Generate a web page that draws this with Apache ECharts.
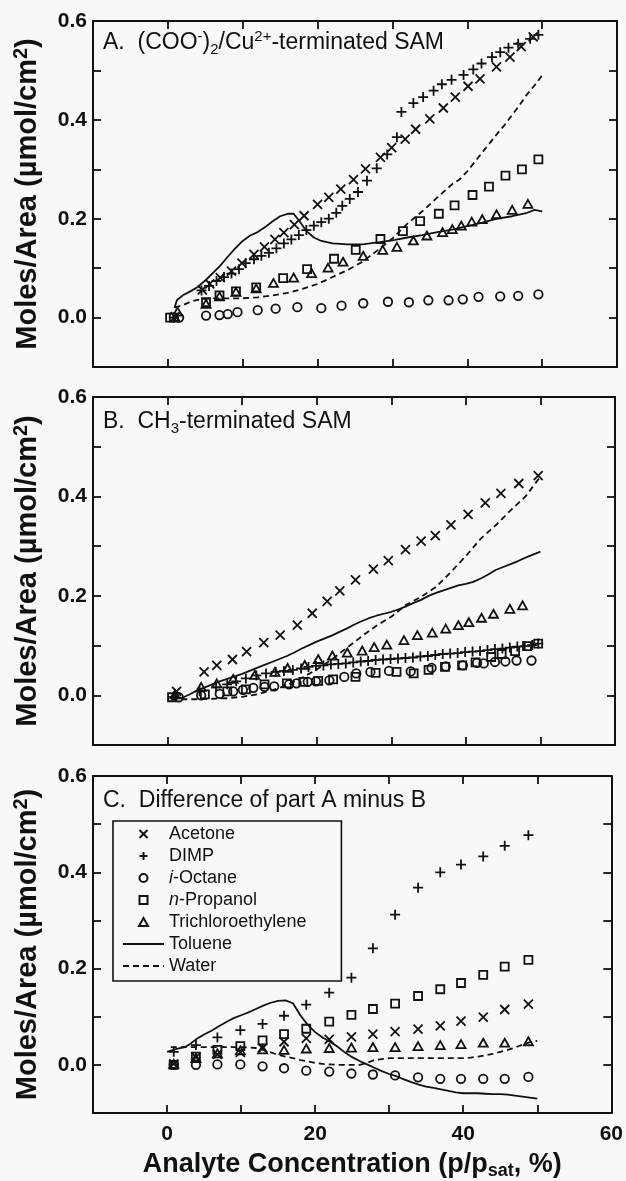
<!DOCTYPE html>
<html><head><meta charset="utf-8">
<script src="https://cdn.jsdelivr.net/npm/echarts@6/dist/echarts.min.js"></script>
<style>html,body{margin:0;padding:0;background:#f8f8f8}#c{width:626px;height:1181px}</style>
</head><body><div id="c"></div>
<script>
// ---------- DATA (x = p/psat %, y = µmol/cm2) ----------
const seriesNames = ['Acetone','DIMP','i-Octane','n-Propanol','Trichloroethylene','Toluene','Water'];
const xTicks = [0,20,40,60];
const yTicks = [0.0,0.2,0.4,0.6];

// Panel A: (COO-)2/Cu2+-terminated SAM
const acetoneA = [[1.0,0.002],[4.6,0.056],[5.6,0.068],[7.0,0.081],[8.5,0.094],[9.9,0.110],[11.5,0.128],[12.9,0.143],[14.3,0.158],[15.5,0.172],[16.9,0.188],[18.2,0.206],[20.0,0.229],[21.5,0.243],[23.1,0.260],[24.8,0.279],[26.4,0.301],[28.4,0.324],[29.9,0.344],[31.7,0.361],[33.1,0.381],[35.0,0.402],[36.8,0.424],[38.4,0.446],[40.1,0.468],[41.7,0.483],[43.9,0.507],[45.7,0.527],[47.2,0.548],[48.8,0.568]];
const dimpA = [[0.8,0.0],[4.5,0.055],[5.5,0.064],[6.5,0.074],[7.5,0.082],[8.5,0.089],[9.5,0.098],[10.4,0.110],[11.5,0.118],[12.5,0.125],[13.5,0.131],[14.5,0.140],[15.5,0.150],[16.5,0.158],[17.5,0.167],[18.5,0.177],[19.5,0.186],[20.5,0.193],[21.5,0.200],[22.5,0.212],[23.3,0.226],[24.3,0.240],[25.4,0.254],[26.6,0.277],[27.9,0.302],[29.3,0.330],[30.6,0.365],[31.2,0.416],[32.8,0.434],[34.1,0.446],[35.5,0.459],[36.6,0.472],[37.9,0.481],[39.5,0.491],[40.8,0.502],[41.9,0.514],[43.3,0.527],[44.4,0.537],[45.5,0.546],[46.8,0.554],[48.4,0.564],[49.5,0.572]];
const octaneA = [[1.5,0.0],[5.1,0.004],[6.9,0.005],[8.0,0.007],[9.3,0.011],[12.0,0.015],[14.4,0.018],[17.3,0.021],[20.5,0.019],[23.2,0.024],[26.1,0.029],[29.4,0.032],[32.2,0.031],[34.8,0.035],[37.5,0.035],[39.4,0.037],[41.5,0.042],[44.4,0.043],[46.8,0.044],[49.5,0.047]];
const propanolA = [[0.3,0.0],[0.8,0.0],[5.1,0.031],[6.9,0.045],[9.1,0.053],[11.8,0.061],[15.4,0.080],[18.6,0.098],[22.2,0.119],[25.1,0.137],[28.4,0.159],[31.4,0.175],[33.7,0.195],[36.2,0.210],[38.3,0.227],[40.7,0.248],[42.9,0.265],[45.1,0.287],[47.3,0.300],[49.5,0.320]];
const tceA = [[1.3,0.012],[5.1,0.028],[6.9,0.043],[9.1,0.052],[11.8,0.059],[14.1,0.070],[16.8,0.081],[19.2,0.090],[21.4,0.101],[23.4,0.113],[26.1,0.125],[28.7,0.137],[30.6,0.143],[32.8,0.156],[34.6,0.166],[36.7,0.173],[38.0,0.179],[39.2,0.186],[40.6,0.194],[42.0,0.199],[43.9,0.209],[46.0,0.218],[48.1,0.230]];
const tolueneA = [[0.9,0.02],[1.2,0.035],[2,0.045],[3,0.053],[4,0.062],[5,0.075],[6,0.09],[7,0.105],[8,0.123],[9,0.14],[10,0.155],[11,0.166],[12,0.173],[13,0.183],[14,0.195],[15,0.205],[16,0.21],[16.8,0.21],[17.5,0.197],[18.5,0.175],[19.5,0.162],[20.5,0.155],[22,0.15],[24,0.148],[26,0.148],[28,0.152],[30,0.156],[32,0.162],[34,0.167],[36,0.173],[38,0.178],[40,0.185],[42,0.192],[44,0.2],[46,0.205],[48,0.212],[49,0.218],[50,0.215]];
const waterA = [[0.9,0.02],[2,0.025],[3,0.032],[4,0.036],[5,0.038],[6,0.039],[8,0.039],[10,0.039],[12,0.041],[14,0.045],[16,0.05],[18,0.058],[20,0.068],[22,0.082],[24,0.096],[26,0.113],[28,0.136],[30,0.16],[32,0.19],[34,0.215],[36,0.243],[38,0.27],[39,0.28],[40,0.296],[42,0.334],[44,0.372],[45,0.39],[46,0.41],[47,0.43],[48,0.452],[49,0.47],[50,0.49]];

// Panel B: CH3-terminated SAM
const acetoneB = [[1.2,0.008],[4.9,0.047],[6.6,0.060],[8.7,0.072],[10.6,0.088],[12.9,0.106],[15.1,0.121],[17.4,0.141],[19.4,0.165],[21.4,0.189],[23.1,0.210],[25.2,0.232],[27.6,0.254],[29.6,0.271],[31.9,0.293],[34.0,0.310],[35.9,0.321],[38.0,0.343],[40.3,0.364],[42.6,0.387],[44.7,0.406],[47.1,0.426],[49.7,0.442]];
const dimpB = [[0.8,-0.003],[4.3,0.008],[6.5,0.016],[8.0,0.022],[9.2,0.028],[10.5,0.034],[11.9,0.040],[13.2,0.044],[14.5,0.047],[15.6,0.049],[16.8,0.051],[17.9,0.054],[18.9,0.057],[19.9,0.059],[20.9,0.060],[21.9,0.062],[22.9,0.063],[23.9,0.064],[24.9,0.066],[25.9,0.068],[26.9,0.069],[27.9,0.071],[28.9,0.072],[29.9,0.073],[30.9,0.074],[31.9,0.075],[32.9,0.076],[33.9,0.078],[34.9,0.079],[35.9,0.081],[36.9,0.083],[37.9,0.084],[38.9,0.085],[39.9,0.087],[40.9,0.088],[41.9,0.089],[42.9,0.091],[43.9,0.093],[44.9,0.094],[45.9,0.096],[46.9,0.098],[47.9,0.099],[48.9,0.101],[49.7,0.104]];
const octaneB = [[1.5,-0.004],[4.5,0.0],[7.0,0.003],[8.8,0.008],[10.1,0.011],[11.5,0.015],[13.0,0.017],[14.3,0.018],[16.3,0.022],[17.3,0.024],[18.8,0.027],[19.9,0.028],[21.7,0.030],[23.7,0.037],[25.3,0.044],[27.2,0.047],[29.7,0.049],[32.6,0.048],[35.4,0.055],[37.3,0.058],[39.6,0.060],[41.5,0.065],[42.4,0.064],[43.9,0.067],[45.3,0.068],[46.8,0.070],[48.8,0.070]];
const propanolB = [[0.6,-0.004],[5.0,0.002],[8.0,0.008],[10.5,0.012],[13.0,0.022],[16.0,0.024],[18.2,0.027],[20.2,0.029],[22.2,0.032],[25.2,0.037],[27.9,0.045],[30.7,0.047],[33.0,0.044],[35.0,0.051],[37.2,0.057],[39.5,0.060],[41.3,0.066],[43.4,0.077],[44.8,0.083],[46.6,0.089],[48.2,0.099],[49.7,0.104]];
const tceB = [[1.0,0.002],[4.5,0.017],[6.6,0.024],[8.8,0.033],[11.7,0.041],[14.4,0.047],[16.1,0.055],[18.4,0.061],[20.2,0.073],[22.1,0.080],[24.1,0.086],[26.1,0.090],[27.7,0.097],[29.4,0.102],[31.7,0.111],[33.5,0.121],[35.5,0.126],[37.3,0.134],[39.0,0.141],[40.4,0.147],[42.1,0.156],[43.7,0.164],[45.9,0.174],[47.6,0.181]];
const tolueneB = [[0.5,-0.007],[2,-0.005],[3,0.002],[4,0.01],[5,0.016],[6,0.022],[7,0.028],[8,0.033],[9,0.038],[10,0.043],[11,0.049],[12,0.055],[13,0.061],[14,0.067],[15,0.073],[16,0.079],[17,0.086],[18,0.094],[19,0.101],[20,0.108],[21,0.114],[22,0.12],[23,0.127],[24,0.134],[25,0.142],[26,0.149],[27,0.155],[28,0.16],[29,0.164],[30,0.168],[31,0.173],[32,0.179],[33,0.186],[34,0.192],[35,0.2],[36,0.206],[37,0.211],[38,0.216],[39,0.221],[40,0.224],[41,0.228],[42,0.235],[43,0.243],[44,0.252],[45,0.258],[46,0.264],[47,0.27],[48,0.277],[49,0.283],[50,0.289]];
const waterB = [[0.5,-0.008],[2,-0.008],[4,-0.008],[6,-0.007],[8,-0.006],[10,-0.003],[12,0.002],[14,0.01],[16,0.02],[18,0.035],[20,0.052],[22,0.072],[24,0.095],[26,0.118],[28,0.14],[30,0.158],[31,0.17],[32,0.182],[34,0.198],[36,0.218],[38,0.248],[40,0.28],[42,0.315],[44,0.342],[46,0.372],[48,0.4],[49,0.42],[50,0.44]];

// Panel C: difference A minus B
const acetoneC = [[0.9,0.002],[3.9,0.016],[6.8,0.022],[9.9,0.026],[12.9,0.035],[15.8,0.048],[18.8,0.055],[21.9,0.053],[24.9,0.058],[27.8,0.064],[30.8,0.069],[33.9,0.074],[36.9,0.081],[39.7,0.091],[42.7,0.099],[45.6,0.115],[48.8,0.126]];
const dimpC = [[0.9,0.027],[3.9,0.041],[6.8,0.057],[9.9,0.072],[12.9,0.085],[15.8,0.102],[18.8,0.125],[21.9,0.150],[24.9,0.181],[27.8,0.242],[30.8,0.312],[33.9,0.368],[36.9,0.400],[39.7,0.416],[42.7,0.433],[45.6,0.455],[48.8,0.477]];
const octaneC = [[0.9,0.0],[3.9,0.0],[6.8,0.001],[9.9,0.001],[12.9,-0.003],[15.8,-0.007],[18.8,-0.012],[21.9,-0.014],[24.9,-0.018],[27.8,-0.020],[30.8,-0.022],[33.9,-0.026],[36.9,-0.029],[39.7,-0.029],[42.7,-0.029],[45.6,-0.029],[48.8,-0.025]];
const propanolC = [[0.9,0.0],[3.9,0.017],[6.8,0.031],[9.9,0.039],[12.9,0.051],[15.8,0.064],[18.8,0.075],[21.9,0.090],[24.9,0.104],[27.8,0.116],[30.8,0.127],[33.9,0.143],[36.9,0.157],[39.7,0.170],[42.7,0.187],[45.6,0.204],[48.8,0.218]];
const tceC = [[0.9,0.002],[3.9,0.014],[6.8,0.024],[9.9,0.030],[12.9,0.032],[15.8,0.031],[18.8,0.034],[21.9,0.035],[24.9,0.036],[27.8,0.037],[30.8,0.037],[33.9,0.039],[36.9,0.041],[39.7,0.043],[42.7,0.046],[45.6,0.046],[48.8,0.049]];
const tolueneC = [[0,0.027],[1.3,0.033],[2.4,0.037],[3,0.042],[4,0.054],[5,0.063],[6,0.071],[7,0.08],[8,0.089],[9,0.097],[10,0.103],[11,0.109],[12,0.116],[13,0.123],[14,0.129],[15,0.133],[16,0.134],[17,0.128],[18,0.103],[19,0.083],[20,0.068],[21,0.057],[22,0.048],[23,0.038],[24,0.026],[25,0.016],[26,0.008],[27,0.001],[28,-0.006],[29,-0.013],[30,-0.019],[31,-0.024],[32,-0.03],[33,-0.036],[34,-0.041],[35,-0.045],[36,-0.048],[37,-0.051],[38,-0.054],[39,-0.057],[40,-0.059],[41,-0.059],[42,-0.059],[43,-0.06],[44,-0.061],[45,-0.061],[46,-0.062],[47,-0.064],[48,-0.066],[49,-0.068],[50,-0.07]];
const waterC = [[0.5,0.037],[2,0.037],[4,0.037],[6,0.037],[8,0.037],[10,0.037],[12,0.035],[13,0.031],[14,0.026],[15,0.021],[16,0.017],[17,0.014],[18,0.01],[19,0.007],[20,0.004],[21,0.002],[22,0.001],[23,0.0],[24,0.0],[25,0.0],[26,0.0],[27,0.004],[28,0.01],[29,0.012],[30,0.014],[32,0.014],[34,0.014],[36,0.014],[38,0.014],[40,0.014],[41,0.015],[42,0.017],[43,0.02],[44,0.023],[45,0.027],[46,0.031],[47,0.036],[48,0.042],[49,0.047],[50,0.05]];

const panelData = [
  [acetoneA, dimpA, octaneA, propanolA, tceA, tolueneA, waterA],
  [acetoneB, dimpB, octaneB, propanolB, tceB, tolueneB, waterB],
  [acetoneC, dimpC, octaneC, propanolC, tceC, tolueneC, waterC]
];
const panelTitles = [
  'A.  (COO{sup|-}){sub|2}/Cu{sup|2+}-terminated SAM',
  'B.  CH{sub|3}-terminated SAM',
  'C.  Difference of part A minus B'
];

// ---------- STYLE / LAYOUT ----------
const FONT = "'Liberation Sans', Arial, Helvetica, sans-serif";
const INK = '#111';
const grids = [
  {left: 93, top: 21, width: 524, height: 346},
  {left: 93, top: 397, width: 522, height: 348},
  {left: 93, top: 776, width: 521, height: 345}
];
const titleTops = [29, 408, 787];
const CROSS = 'path://M0,0L9,9M0,9L9,0';
const PLUS = 'path://M4.5,0L4.5,9M0,4.5L9,4.5';
const SQUARE = 'path://M0,0L8,0L8,8L0,8Z';
const TRIANGLE = 'path://M4.5,0L9,8L0,8Z';
const symbols = [CROSS, PLUS, 'circle', SQUARE, TRIANGLE];
const symSizes = [9, 10, 8.5, 8, 9];

const xAxes = [], yAxes = [], series = [], titles = [];
grids.forEach((g, i) => {
  const common = {
    gridIndex: i, type: 'value', min: -10, max: 60, interval: 10,
    axisLine: {show: true, onZero: false, lineStyle: {color: INK, width: 2}},
    axisTick: {show: true, inside: true, length: 8, lineStyle: {color: INK, width: 1.8}},
    splitLine: {show: false}
  };
  xAxes.push(Object.assign({}, common, {
    position: 'bottom',
    axisLabel: {show: i === 2, margin: 11, fontFamily: FONT, fontWeight: 'bold', fontSize: 21, color: INK,
      formatter: v => xTicks.indexOf(v) >= 0 ? String(v) : ''},
    name: i === 2 ? 'Analyte Concentration (p/p{sub|sat}, %)' : '',
    nameLocation: 'middle', nameGap: 37,
    nameTextStyle: {fontFamily: FONT, fontWeight: 'bold', fontSize: 27, color: INK, lineHeight: 30,
      rich: {sub: {fontFamily: FONT, fontWeight: 'bold', fontSize: 18, color: INK, verticalAlign: 'bottom', lineHeight: 22}}}
  }));
  xAxes.push(Object.assign({}, common, {position: 'top', axisLabel: {show: false}}));
  const ycommon = {
    gridIndex: i, type: 'value', min: -0.1, max: 0.6, interval: 0.1,
    axisLine: {show: true, onZero: false, lineStyle: {color: INK, width: 2}},
    axisTick: {show: true, inside: true, length: 8, lineStyle: {color: INK, width: 1.8}},
    splitLine: {show: false}
  };
  yAxes.push(Object.assign({}, ycommon, {
    position: 'left',
    axisLabel: {show: true, margin: 6, fontFamily: FONT, fontWeight: 'bold', fontSize: 21, color: INK,
      formatter: v => { const r = Math.round(v * 10) / 10; return yTicks.some(t => Math.abs(t - r) < 1e-9) ? r.toFixed(1) : ''; }},
    name: 'Moles/Area (\u00b5mol/cm{sup|2})',
    nameLocation: 'middle', nameGap: 48, nameRotate: 90,
    nameTextStyle: {fontFamily: FONT, fontWeight: 'bold', fontSize: 29, color: INK, lineHeight: 34,
      rich: {sup: {fontFamily: FONT, fontWeight: 'bold', fontSize: 20, color: INK, verticalAlign: 'top', lineHeight: 24}}}
  }));
  yAxes.push(Object.assign({}, ycommon, {position: 'right', axisLabel: {show: false}}));

  titles.push({
    left: g.left + 10, top: titleTops[i], padding: 0, text: panelTitles[i],
    textStyle: {fontFamily: FONT, fontWeight: 'normal', fontSize: 23, color: INK, lineHeight: 28,
      rich: {
        sup: {fontFamily: FONT, fontSize: 15, color: INK, verticalAlign: 'top', lineHeight: 18},
        sub: {fontFamily: FONT, fontSize: 15, color: INK, verticalAlign: 'bottom', lineHeight: 20}
      }}
  });

  panelData[i].forEach((data, k) => {
    const base = {name: seriesNames[k], xAxisIndex: 2 * i, yAxisIndex: 2 * i, data: data, silent: true, animation: false};
    if (k < 5) {
      series.push(Object.assign(base, {
        type: 'scatter', symbol: symbols[k], symbolSize: symSizes[k], symbolKeepAspect: true,
        itemStyle: {color: 'rgba(0,0,0,0)', borderColor: INK, borderWidth: 1.8, opacity: 1}
      }));
    } else {
      series.push(Object.assign(base, {
        type: 'line', symbol: 'none', showSymbol: false, smooth: false,
        lineStyle: {color: INK, width: 1.8, type: k === 6 ? [6, 4] : 'solid'},
        itemStyle: {color: 'rgba(0,0,0,0)', borderColor: 'rgba(0,0,0,0)', borderWidth: 0}
      }));
    }
  });
});

const chart = echarts.init(document.getElementById('c'), null, {renderer: 'canvas'});
chart.setOption({
  backgroundColor: '#f8f8f8',
  animation: false,
  title: titles,
  grid: grids.map(g => Object.assign({containLabel: false}, g)),
  xAxis: xAxes,
  yAxis: yAxes,
  legend: {
    show: true, orient: 'vertical', left: 113, top: 821,
    padding: [4, 35, 6, 9], itemWidth: 41, itemHeight: 8, itemGap: 4,
    borderColor: INK, borderWidth: 1.6, selectedMode: false,
    data: seriesNames,
    textStyle: {fontFamily: FONT, fontSize: 18, color: INK, lineHeight: 18,
      rich: {it: {fontFamily: FONT, fontSize: 18, fontStyle: 'italic', color: INK}}},
    formatter: name => name === 'i-Octane' ? '{it|i}-Octane' : (name === 'n-Propanol' ? '{it|n}-Propanol' : name)
  },
  series: series
});
</script>
</body></html>
